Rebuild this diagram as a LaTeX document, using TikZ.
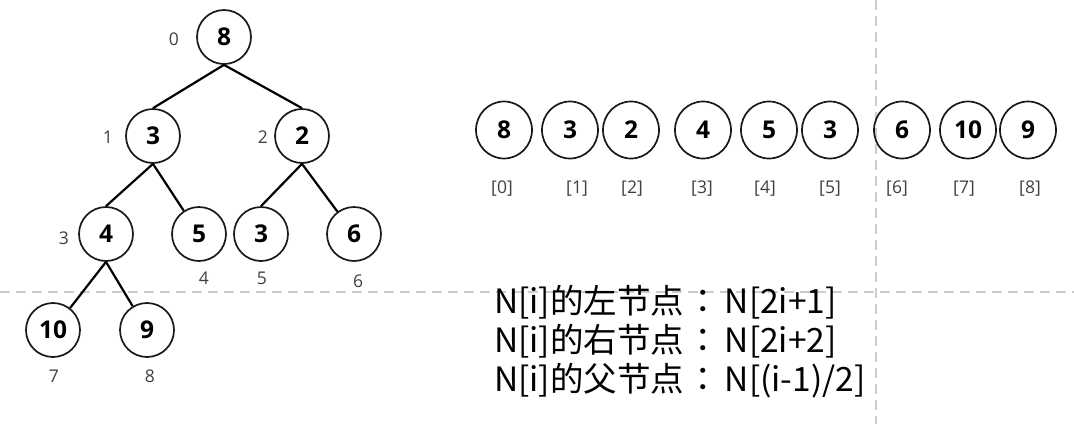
\documentclass[tikz,border=0pt]{standalone}
\usepackage{fontspec}
\usetikzlibrary{shapes.geometric}
\setmainfont{Open Sans}
\newfontfamily\cjkfont{Noto Sans CJK SC}
\newfontfamily\cjkpunct{Noto Sans CJK TC}
\newcommand{\mycolon}{\kern2.5pt{\cjkpunct ：}\kern4.5pt}
\begin{document}
\begin{tikzpicture}[x=1pt,y=-1pt,
  guide/.style={draw=black!20,line width=1.8pt,dash pattern=on 10pt off 6pt},
  treenode/.style={circle,draw=black!90,line width=1.7pt,minimum size=54pt,inner sep=0pt,font=\fontsize{24.5}{28}\selectfont\bfseries},
  arrnode/.style={ellipse,draw=black!90,line width=1.7pt,minimum width=56pt,minimum height=57pt,inner sep=0pt,font=\fontsize{24.5}{28}\selectfont\bfseries},
  idx/.style={text=black!75,inner sep=0pt,font=\fontsize{17.5}{20}\selectfont},
  edge/.style={draw=black,line width=2.2pt},
  rule/.style={anchor=base west,inner sep=0pt,font=\cjkfont\fontsize{33.5}{40}\selectfont}]
\useasboundingbox (0,0) rectangle (1074,424);
% guide lines
\coordinate (hl) at (0,292);
\coordinate (hr) at (1074,292);
\coordinate (vt) at (876,0);
\coordinate (vb) at (876,424);
\draw[guide] (hl) -- (hr);
\draw[guide] (vt) -- (vb);
% tree
\node[treenode] (n0) at (224,37) {8};
\node[treenode] (n1) at (153,136) {3};
\node[treenode] (n2) at (302,136) {2};
\node[treenode] (n3) at (106,234) {4};
\node[treenode] (n4) at (199,234) {5};
\node[treenode] (n5) at (261,234) {3};
\node[treenode] (n6) at (354,234) {6};
\node[treenode] (n7) at (53,330) {10};
\node[treenode] (n8) at (147,330) {9};
\draw[edge] (n0.south) -- (n1.north);
\draw[edge] (n0.south) -- (n2.north);
\draw[edge] (n1.south) -- (n3.north);
\draw[edge] (n1.south) -- (n4);
\draw[edge] (n2.south) -- (n5.north);
\draw[edge] (n2.south) -- (n6);
\draw[edge] (n3.south) -- (n7);
\draw[edge] (n3.south) -- (n8);
% tree indices
\node[idx] (t0) at (174,39) {0};
\node[idx] (t1) at (108,137) {1};
\node[idx] (t2) at (263,137) {2};
\node[idx] (t3) at (64,238) {3};
\node[idx] (t4) at (204,278) {4};
\node[idx] (t5) at (262,278) {5};
\node[idx] (t6) at (358,281) {6};
\node[idx] (t7) at (54,376) {7};
\node[idx] (t8) at (150,376) {8};
% array
\node[arrnode] (a0) at (504,130) {8};
\node[arrnode] (a1) at (570,130) {3};
\node[arrnode] (a2) at (631,130) {2};
\node[arrnode] (a3) at (703,130) {4};
\node[arrnode] (a4) at (769,130) {5};
\node[arrnode] (a5) at (830,130) {3};
\node[arrnode] (a6) at (902,130) {6};
\node[arrnode] (a7) at (968,130) {10};
\node[arrnode] (a8) at (1028,130) {9};
\node[idx] (b0) at (502,189) {[0]};
\node[idx] (b1) at (577,189) {[1]};
\node[idx] (b2) at (632,189) {[2]};
\node[idx] (b3) at (702,189) {[3]};
\node[idx] (b4) at (765,189) {[4]};
\node[idx] (b5) at (830,189) {[5]};
\node[idx] (b6) at (897,189) {[6]};
\node[idx] (b7) at (964,189) {[7]};
\node[idx] (b8) at (1030,189) {[8]};
% rules
\node[rule] (r1) at (494,313) {N[i]的左节点\mycolon N[2i+1]};
\node[rule] (r2) at (494,352) {N[i]的右节点\mycolon N[2i+2]};
\node[rule] (r3) at (494,391) {N[i]的父节点\mycolon N[(i-1)/2]};
\end{tikzpicture}
\end{document}
